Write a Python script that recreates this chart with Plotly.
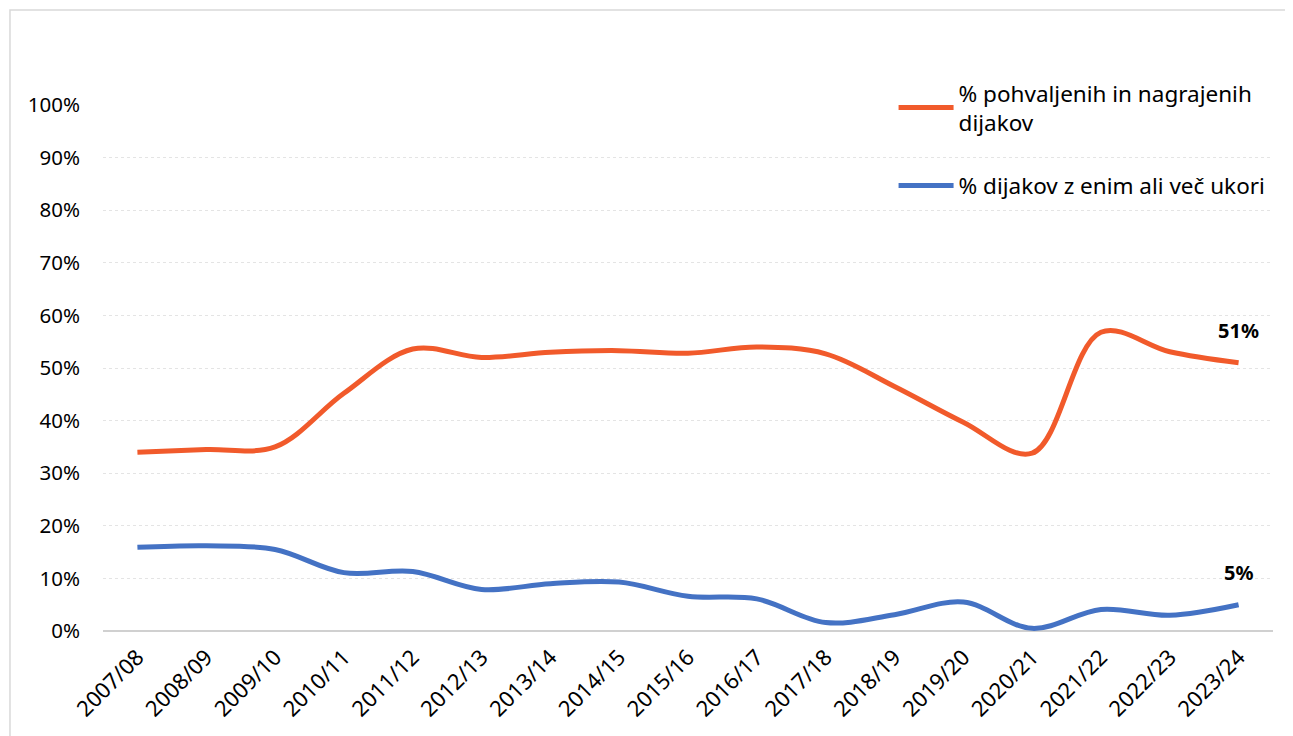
import plotly.graph_objects as go

years = ["2007/08", "2008/09", "2009/10", "2010/11", "2011/12", "2012/13", "2013/14",
         "2014/15", "2015/16", "2016/17", "2017/18", "2018/19", "2019/20", "2020/21",
         "2021/22", "2022/23", "2023/24"]
praised = [0.340, 0.345, 0.350, 0.452, 0.536, 0.520, 0.530, 0.533, 0.528, 0.540,
           0.527, 0.465, 0.397, 0.338, 0.568, 0.531, 0.510]
reprimanded = [0.159, 0.162, 0.155, 0.111, 0.113, 0.079, 0.090, 0.093, 0.066, 0.061,
               0.016, 0.031, 0.055, 0.005, 0.041, 0.030, 0.050]
name_praised = "% pohvaljenih in nagrajenih<br>dijakov"
name_reprimanded = "% dijakov z enim ali več ukori"

ORANGE = "#F15A2B"
BLUE = "#4472C4"
FONT = "Noto Sans"

fig = go.Figure()
fig.add_trace(go.Scatter(x=years, y=praised, name=name_praised, mode="lines",
                         line=dict(color=ORANGE, width=5, shape="spline", smoothing=1.0),
                         legendgroup="a"))
fig.add_trace(go.Scatter(x=years, y=reprimanded, name=name_reprimanded, mode="lines",
                         line=dict(color=BLUE, width=5, shape="spline", smoothing=1.0),
                         legendgroup="b"))

fig.add_annotation(x=years[-1], y=praised[-1], text="<b>%d%%</b>" % round(praised[-1] * 100),
                   showarrow=False, yshift=32, font=dict(family=FONT, size=20, color="#000"))
fig.add_annotation(x=years[-1], y=reprimanded[-1], text="<b>%d%%</b>" % round(reprimanded[-1] * 100),
                   showarrow=False, yshift=32, font=dict(family=FONT, size=20, color="#000"))

# chart border
fig.add_shape(type="rect", xref="paper", yref="paper", x0=-0.0795, x1=1.06, y0=-0.3, y1=1.1806,
              line=dict(color="#D9D9D9", width=1.5), fillcolor="rgba(0,0,0,0)", layer="below")

fig.update_layout(
    width=1285, height=728,
    margin=dict(l=95, r=20, t=97, b=105),
    paper_bgcolor="white", plot_bgcolor="white",
    font=dict(family=FONT, color="#000"),
    showlegend=True,
    legend=dict(x=0.6757, y=1.063, xanchor="left", yanchor="top",
                font=dict(family=FONT, size=22.5, color="#000"),
                bgcolor="rgba(0,0,0,0)", tracegroupgap=31, itemwidth=55,
                traceorder="grouped"),
    xaxis=dict(type="category", range=[-0.5, 16.5], tickangle=-45,
               tickfont=dict(family=FONT, size=22, color="#000"),
               showgrid=False, showline=False, ticks="", zeroline=False,
               ticklabelstandoff=8),
    yaxis=dict(range=[0, 1], tickvals=[i / 10 for i in range(11)],
               tickformat=".0%", tickfont=dict(family=FONT, size=20.5, color="#000"),
               showgrid=True, gridcolor="#E4E4E4", griddash="dot", gridwidth=1,
               zeroline=True, zerolinecolor="#D0D0D0", zerolinewidth=2,
               ticks="", ticklabelstandoff=22),
)

fig.write_html("out.html")
